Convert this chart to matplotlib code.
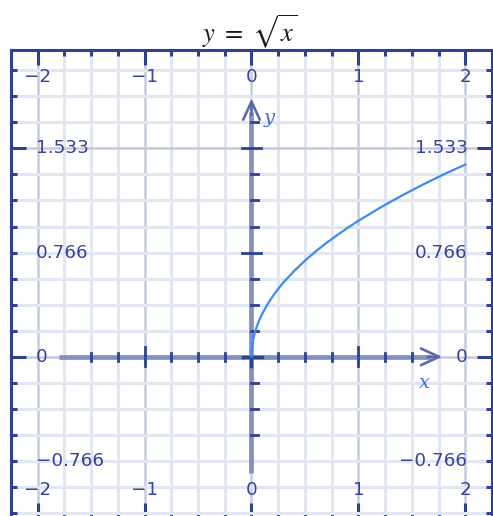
import numpy as np
import matplotlib
matplotlib.use('Agg')
import matplotlib.pyplot as plt

# values
curve_x = [0, 0.001, 0.004, 0.01, 0.02, 0.035, 0.05, 0.075, 0.1, 0.15, 0.2, 0.25, 0.3, 0.4, 0.5,
           0.6, 0.7, 0.8, 0.9, 1.0, 1.2, 1.4, 1.6, 1.8, 2.0]
curve_y = [0, 0.032, 0.063, 0.1, 0.141, 0.187, 0.224, 0.274, 0.316, 0.387, 0.447, 0.5, 0.548, 0.632, 0.707,
           0.775, 0.837, 0.894, 0.949, 1.0, 1.095, 1.183, 1.265, 1.342, 1.414]

x_ticks = [-2, -1, 0, 1, 2]
x_tick_labels = ['\u22122', '\u22121', '0', '1', '2']
y_ticks = [1.533, 0.766, 0, -0.766]
y_tick_labels = ['1.533', '0.766', '0', '\u22120.766']

title = r'$y\ =\ \sqrt{x}$'

frame_col = '#2d4292'
label_col = '#34449a'
axis_col = '#8290c0'

plt.rcParams['mathtext.fontset'] = 'stix'

fig = plt.figure(figsize=(4.93, 5.16), dpi=100)
ax = fig.add_axes([11 / 493, -2 / 516, 481 / 493, 468 / 516])
ax.set_xlim(-2.245, 2.235)
ax.set_ylim(-1.185, 2.256)

ystep = 1.533 / 8
ax.set_xticks(x_ticks)
ax.set_xticks(np.arange(-2.25, 2.26, 0.25), minor=True)
ax.set_yticks(y_ticks)
ax.set_yticks(np.arange(-6, 12) * ystep, minor=True)
ax.set_xticklabels([])
ax.set_yticklabels([])
ax.tick_params(which='both', direction='in', top=True, right=True, color=frame_col)
ax.tick_params(which='major', length=11, width=2.2)
ax.tick_params(which='minor', length=4, width=2.2)

# grid
ax.set_axisbelow(True)
ax.grid(which='minor', color='#e1e6f2', lw=2.2)
ax.grid(which='major', color='#c4cadf', lw=1.8)

for s in ax.spines.values():
    s.set_color(frame_col)
    s.set_linewidth(2.2)

# axis lines with arrow heads
ax.plot([-1.8, 1.68], [0, 0], color=axis_col, lw=3.4, solid_capstyle='butt', zorder=3)
ax.plot([0, 0], [-0.855, 1.80], color=axis_col, lw=3.4, solid_capstyle='butt', zorder=3)
ax.annotate('', xy=(1.81, 0), xytext=(1.62, 0),
            arrowprops=dict(arrowstyle='->,head_length=1.3,head_width=0.6', color='#5d6aaa', lw=1.9), zorder=4)
ax.annotate('', xy=(0, 1.92), xytext=(0, 1.76),
            arrowprops=dict(arrowstyle='->,head_length=1.3,head_width=0.6', color='#5d6aaa', lw=1.9), zorder=4)

# small ticks on the axis lines
for v in np.arange(-1.5, 1.51, 0.25):
    if abs(v) < 1e-9:
        continue
    if abs(v - round(v)) < 1e-9:
        ax.plot([v, v], [0.07, -0.07], color=frame_col, lw=2, zorder=4)
    else:
        ax.plot([v, v], [0.03, -0.03], color=frame_col, lw=2, zorder=4)
for k in range(-3, 10):
    v = k * ystep
    if k == 0:
        continue
    if k % 4 == 0 and k > 0:
        ax.plot([-0.09, 0.09], [v, v], color=frame_col, lw=2, zorder=4)
    else:
        ax.plot([0, 0.065], [v, v], color=frame_col, lw=2, zorder=4)
ax.plot([-0.08, 0.1], [0, 0], color=frame_col, lw=2.5, zorder=4)
ax.plot([0, 0], [0, -0.07], color=frame_col, lw=2.5, zorder=4)

# the curve
ax.plot(curve_x, curve_y, color='#3c8af5', lw=1.6, zorder=5)

# tick labels inside the frame
fs = 13.2
for v, t in zip(x_ticks, x_tick_labels):
    ax.text(v, 2.057, t, ha='center', va='center', fontsize=fs, color=label_col, zorder=6)
    ax.text(v, -0.979, t, ha='center', va='center', fontsize=fs, color=label_col, zorder=6)
for v, t in zip(y_ticks, y_tick_labels):
    ax.text(-2.02, v, t, ha='left', va='center', fontsize=fs, color=label_col, zorder=6)
    ax.text(2.02, v, t, ha='right', va='center', fontsize=fs, color=label_col, zorder=6)

# axis names
ax.text(1.615, -0.193, 'x', ha='center', va='center', fontsize=14, style='italic',
        family='DejaVu Serif', color='#3a6fd8', zorder=6)
ax.text(0.168, 1.756, 'y', ha='center', va='center', fontsize=14, style='italic',
        family='DejaVu Serif', color='#3a6fd8', zorder=6)

fig.text(250 / 493, 1 - 32 / 516, title, ha='center', va='center', fontsize=19, color='#1a1a1a')

fig.savefig('out.png', dpi=100)
